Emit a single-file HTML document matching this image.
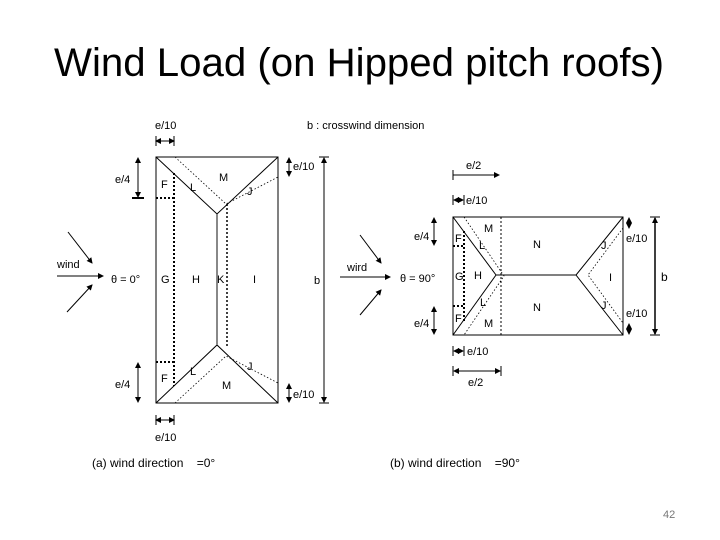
<!DOCTYPE html>
<html><head><meta charset="utf-8"><style>
html,body{margin:0;padding:0;background:#fff;}
svg{display:block;}
text{font-family:"Liberation Sans",sans-serif;fill:#000;}
</style></head><body>
<svg width="720" height="540" viewBox="0 0 720 540" xmlns="http://www.w3.org/2000/svg">
<defs>
<marker id="a" markerWidth="6" markerHeight="6" refX="5" refY="3" orient="auto-start-reverse" markerUnits="userSpaceOnUse"><path d="M0,0 L6,3 L0,6 z" fill="#000"/></marker>
</defs>
<text x="54" y="76" font-size="40" textLength="610" lengthAdjust="spacingAndGlyphs">Wind Load (on Hipped pitch roofs)</text>

<g stroke="#000" fill="none" stroke-width="1">
<rect x="156" y="157" width="122" height="246"/>
<polyline points="156,157 217,214 278,157"/>
<polyline points="156,403 217,345 278,403"/>
<line x1="217" y1="214" x2="217" y2="345" stroke="#888" stroke-width="2"/>
<line x1="174" y1="173" x2="174" y2="386" stroke-dasharray="2,2" stroke-width="2"/>
<line x1="156" y1="198" x2="174" y2="198" stroke-dasharray="2,2" stroke-width="2"/>
<line x1="156" y1="362" x2="174" y2="362" stroke-dasharray="2,2" stroke-width="2"/>
<line x1="227" y1="204" x2="227" y2="348" stroke-dasharray="2,2" stroke-width="1.5"/>
<g stroke-dasharray="1.5,2" stroke-width="0.8">
<polyline points="175,157 226,204 278,177"/>
<polyline points="175,403 226,356 278,383"/>
</g>
<line x1="138" y1="158" x2="138" y2="197" marker-start="url(#a)" marker-end="url(#a)"/>
<line x1="132" y1="198" x2="144" y2="198" stroke-width="2"/>
<line x1="138" y1="363" x2="138" y2="402" marker-start="url(#a)" marker-end="url(#a)"/>
<line x1="156" y1="141" x2="174" y2="141" marker-start="url(#a)" marker-end="url(#a)"/>
<line x1="156" y1="136" x2="156" y2="146"/><line x1="174" y1="136" x2="174" y2="146"/>
<line x1="156" y1="420" x2="174" y2="420" marker-start="url(#a)" marker-end="url(#a)"/>
<line x1="156" y1="415" x2="156" y2="425"/><line x1="174" y1="415" x2="174" y2="425"/>
<line x1="289" y1="158" x2="289" y2="176" marker-start="url(#a)" marker-end="url(#a)"/>
<line x1="289" y1="384" x2="289" y2="402" marker-start="url(#a)" marker-end="url(#a)"/>
<line x1="324" y1="158" x2="324" y2="402" marker-start="url(#a)" marker-end="url(#a)"/>
<line x1="319" y1="157" x2="329" y2="157"/><line x1="319" y1="403" x2="329" y2="403"/>
<line x1="57" y1="276" x2="103" y2="276" marker-end="url(#a)"/>
<line x1="68" y1="232" x2="92" y2="263" marker-end="url(#a)"/>
<line x1="67" y1="312" x2="92" y2="285" marker-end="url(#a)"/>

<rect x="453" y="217" width="170" height="118"/>
<polyline points="453,217 496,275 453,335"/>
<polyline points="623,217 576,275 623,335"/>
<line x1="496" y1="275" x2="576" y2="275"/>
<line x1="501" y1="217" x2="501" y2="335" stroke-dasharray="2,2"/>
<line x1="464" y1="231" x2="464" y2="323" stroke-dasharray="2,2" stroke-width="2"/>
<line x1="453" y1="246" x2="464" y2="246" stroke-dasharray="2,2" stroke-width="2"/>
<line x1="453" y1="306" x2="464" y2="306" stroke-dasharray="2,2" stroke-width="2"/>
<g stroke-dasharray="1.5,2" stroke-width="0.8">
<polyline points="464,217 504,276 464,335"/>
<polyline points="623,228 588,275 623,323"/>
</g>
<line x1="453" y1="175" x2="499" y2="175" marker-end="url(#a)"/>
<line x1="453" y1="170" x2="453" y2="180"/>
<line x1="454" y1="200" x2="463" y2="200" marker-start="url(#a)" marker-end="url(#a)"/>
<line x1="453" y1="195" x2="453" y2="205"/><line x1="464" y1="195" x2="464" y2="205"/>
<line x1="454" y1="351" x2="463" y2="351" marker-start="url(#a)" marker-end="url(#a)"/>
<line x1="453" y1="346" x2="453" y2="356"/><line x1="464" y1="346" x2="464" y2="356"/>
<line x1="454" y1="371" x2="500" y2="371" marker-start="url(#a)" marker-end="url(#a)"/>
<line x1="453" y1="366" x2="453" y2="376"/><line x1="501" y1="366" x2="501" y2="376"/>
<line x1="434" y1="218" x2="434" y2="245" marker-start="url(#a)" marker-end="url(#a)"/>
<line x1="434" y1="307" x2="434" y2="334" marker-start="url(#a)" marker-end="url(#a)"/>
<line x1="629" y1="218" x2="629" y2="228" marker-start="url(#a)" marker-end="url(#a)"/>
<line x1="629" y1="324" x2="629" y2="334" marker-start="url(#a)" marker-end="url(#a)"/>
<line x1="655" y1="218" x2="655" y2="334" marker-start="url(#a)" marker-end="url(#a)" stroke-width="1.5"/>
<line x1="650" y1="217" x2="660" y2="217"/><line x1="650" y1="335" x2="660" y2="335"/>
<line x1="340" y1="277" x2="390" y2="277" marker-end="url(#a)"/>
<line x1="360" y1="235" x2="381" y2="263" marker-end="url(#a)"/>
<line x1="360" y1="315" x2="381" y2="290" marker-end="url(#a)"/>
</g>

<g font-size="11">
<text x="155" y="129">e/10</text>
<text x="307" y="129">b : crosswind dimension</text>
<text x="115" y="183">e/4</text>
<text x="115" y="388">e/4</text>
<text x="293" y="170">e/10</text>
<text x="293" y="398">e/10</text>
<text x="314" y="284">b</text>
<text x="57" y="268">wind</text>
<text x="111" y="283">θ = 0°</text>
<text x="161" y="188">F</text><text x="190" y="191">L</text><text x="219" y="181">M</text><text x="247" y="195">J</text>
<text x="161" y="283">G</text><text x="192" y="283">H</text><text x="217" y="283">K</text><text x="253" y="283">I</text>
<text x="161" y="382">F</text><text x="190" y="375">L</text><text x="222" y="389">M</text><text x="247" y="370">J</text>
<text x="155" y="441">e/10</text>
<text x="92" y="467" font-size="12">(a) wind direction&#160;&#160;&#160;&#160;=0°</text>

<text x="466" y="169">e/2</text>
<text x="466" y="204">e/10</text>
<text x="414" y="240">e/4</text>
<text x="414" y="327">e/4</text>
<text x="626" y="242">e/10</text>
<text x="626" y="317">e/10</text>
<text x="661" y="281" font-size="12">b</text>
<text x="347" y="271">wird</text>
<text x="400" y="282">θ = 90°</text>
<text x="455" y="242">F</text><text x="484" y="232">M</text><text x="479" y="249">L</text><text x="533" y="248">N</text><text x="601" y="249">J</text>
<text x="455" y="280">G</text><text x="474" y="279">H</text><text x="609" y="281">I</text>
<text x="480" y="306">L</text><text x="455" y="322">F</text><text x="484" y="327">M</text><text x="533" y="311">N</text><text x="601" y="309">J</text>
<text x="467" y="355">e/10</text>
<text x="468" y="386">e/2</text>
<text x="390" y="467" font-size="12">(b) wind direction&#160;&#160;&#160;&#160;=90°</text>
</g>
<text x="663" y="518" font-size="11" style="fill:#777">42</text>
</svg>
</body></html>
